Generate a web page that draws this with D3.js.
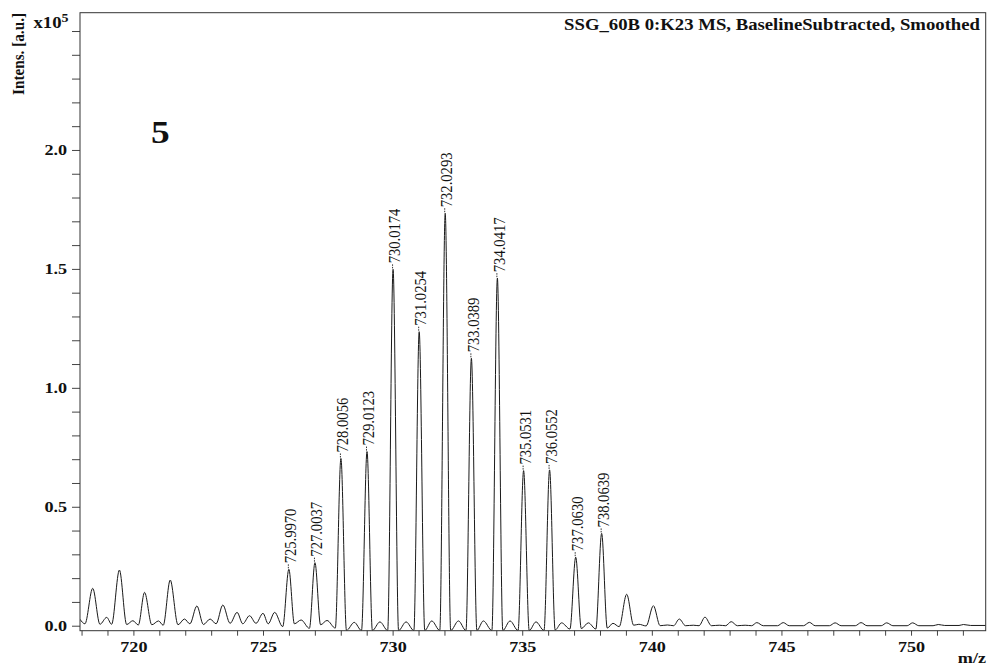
<!DOCTYPE html>
<html>
<head>
<meta charset="utf-8">
<script src="https://cdn.jsdelivr.net/npm/d3@7"></script>
<style>
  html, body { margin: 0; padding: 0; background: #fff; }
  svg { display: block; font-family: "Liberation Serif", "Times New Roman", serif; }
</style>
</head>
<body>
<svg id="chart" width="987" height="667"></svg>
<script>
// Labelled isotope peaks: m/z as printed, intensity in units of 1e5 a.u.
const peakLabels = ["725.9970", "727.0037", "728.0056", "729.0123", "730.0174", "731.0254",
                    "732.0293", "733.0389", "734.0417", "735.0531", "736.0552", "737.0630", "738.0639"];
const peakMz = peakLabels.map(Number);
const peakIntensity = [0.237, 0.265, 0.703, 0.732, 1.498, 1.236, 1.734, 1.124, 1.461, 0.652, 0.655, 0.288, 0.388];

// Rest of the smoothed profile: minor peaks, valleys and the ringing between isotopes
const traceMz = [
  717.94, 718.13, 718.43, 718.71, 718.97, 719.16, 719.46, 719.74, 719.98, 720.19,
  720.43, 720.71, 720.97, 721.15, 721.42, 721.72, 721.97, 722.18, 722.45, 722.70,
  722.96, 723.19, 723.45, 723.73, 724.00, 724.22, 724.48, 724.73, 725.00, 725.20,
  725.45, 725.76,
  726.21, 726.47, 726.79,
  727.22, 727.47, 727.79,
  728.22, 728.52, 728.80,
  729.22, 729.51, 729.81,
  730.23, 730.52, 730.82,
  731.24, 731.51, 731.82,
  732.24, 732.54, 732.83,
  733.25, 733.50, 733.83,
  734.25, 734.53, 734.84,
  735.27, 735.53, 735.84,
  736.27, 736.52, 736.84,
  737.28, 737.55, 737.84,
  738.28, 738.50, 738.74, 739.03, 739.30, 739.50, 739.78, 740.06, 740.32, 740.60,
  740.84, 741.06, 741.30, 741.60, 741.82, 742.05, 742.30, 742.60, 742.85, 743.06,
  743.30, 743.60, 743.85, 744.05, 744.30, 744.85, 745.07, 745.30, 745.85, 746.08,
  746.30, 746.85, 747.07, 747.30, 747.85, 748.07, 748.30, 748.85, 749.06, 749.30,
  749.85, 750.06, 750.30, 750.85, 751.05, 751.30, 751.85, 752.02, 752.30, 752.88
];
const traceIntensity = [
  0.027, 0.008, 0.157, 0.006, 0.035, 0.006, 0.234, 0.005, 0.021, 0.003,
  0.140, 0.004, 0.020, 0.002, 0.192, 0.004, 0.028, 0.008, 0.083, 0.005,
  0.028, 0.008, 0.087, 0.010, 0.056, 0.008, 0.042, 0.010, 0.052, 0.008,
  0.056, -0.004,
  0.008, 0.024, -0.011,
  0.004, 0.022, -0.010,
  -0.020, 0.014, -0.020,
  -0.020, 0.016, -0.020,
  -0.020, 0.016, -0.020,
  -0.020, 0.020, -0.020,
  -0.020, 0.020, -0.020,
  -0.020, 0.020, -0.020,
  -0.020, 0.020, -0.020,
  -0.020, 0.016, -0.020,
  -0.018, 0.012, -0.014,
  -0.012, 0.012, -0.014,
  -0.010, 0.010, -0.004, 0.132, 0.002, 0.006, -0.001, 0.084, 0.000, 0.003,
  0.000, 0.028, 0.000, 0.002, 0.000, 0.036, 0.000, 0.002, 0.000, 0.017,
  0.000, 0.002, 0.000, 0.013, 0.000, 0.000, 0.013, 0.000, 0.000, 0.014,
  0.000, 0.000, 0.012, 0.000, 0.000, 0.013, 0.000, 0.000, 0.012, 0.000,
  0.000, 0.012, 0.000, 0.000, 0.005, 0.001, 0.001, 0.005, 0.001, 0.001
];

// Axis ticks
const xTickValues = d3.range(718, 753);           // one tick per m/z unit
const xLabelEvery = 5;
const yTickValues = d3.range(0, 26).map(i => i / 10); // one tick per 0.1 x10^5
const yLabelValues = [0, 0.5, 1.0, 1.5, 2.0];

// Layout
const plot = { left: 80, top: 12.7, right: 985.7, bottom: 630.7 };
const STRETCH = 1.17; // wide horizontal glyph proportions
const ink = "#111";

const svg = d3.select("#chart");

const x = d3.scaleLinear().domain([717.94, 752.88]).range([plot.left, plot.right]);
const y = d3.scaleLinear().domain([-0.021, 2.577]).range([plot.bottom, plot.top]);

// Clip for the trace
svg.append("defs").append("clipPath").attr("id", "plotClip")
  .append("rect")
  .attr("x", plot.left).attr("y", plot.top)
  .attr("width", plot.right - plot.left).attr("height", plot.bottom - plot.top);

// Merge labelled peaks into the profile
const profile = traceMz.map((m, i) => ({ mz: m, v: traceIntensity[i] }))
  .concat(peakMz.map((m, i) => ({ mz: m, v: peakIntensity[i] })))
  .sort((a, b) => a.mz - b.mz);

const line = d3.line()
  .x(d => x(d.mz))
  .y(d => y(d.v))
  .curve(d3.curveMonotoneX);

svg.append("path")
  .datum(profile)
  .attr("clip-path", "url(#plotClip)")
  .attr("fill", "none")
  .attr("stroke", "#1a1a1a")
  .attr("stroke-width", 1)
  .attr("stroke-linejoin", "round")
  .attr("d", line);

// Axes
const xAxis = d3.axisBottom(x)
  .tickValues(xTickValues)
  .tickSize(5)
  .tickSizeOuter(0)
  .tickFormat(d => d % xLabelEvery === 0 ? d3.format("d")(d) : "");

const gx = svg.append("g")
  .attr("transform", `translate(0,${plot.bottom})`)
  .call(xAxis);
gx.select(".domain").remove();
gx.selectAll(".tick line").attr("stroke", "#444");
gx.selectAll(".tick text")
  .attr("fill", ink)
  .attr("font-size", "15.5px")
  .attr("font-weight", "bold")
  .attr("font-family", "Liberation Serif, Times New Roman, serif")
  .attr("y", 21).attr("dy", 0)
  .attr("transform", `scale(${STRETCH},1)`);

const yAxis = d3.axisLeft(y)
  .tickValues(yTickValues)
  .tickSize(8)
  .tickSizeOuter(0)
  .tickFormat(d => yLabelValues.some(v => Math.abs(v - d) < 1e-9) ? d3.format(".1f")(d) : "");

const gy = svg.append("g")
  .attr("transform", `translate(${plot.left},0)`)
  .call(yAxis);
gy.select(".domain").remove();
gy.selectAll(".tick line").attr("stroke", "#444");
gy.selectAll(".tick text")
  .attr("fill", ink)
  .attr("font-size", "15.5px")
  .attr("font-weight", "bold")
  .attr("font-family", "Liberation Serif, Times New Roman, serif")
  .attr("transform", `scale(${STRETCH},1)`);

// Frame
svg.append("rect")
  .attr("x", plot.left).attr("y", plot.top)
  .attr("width", plot.right - plot.left).attr("height", plot.bottom - plot.top)
  .attr("fill", "none")
  .attr("stroke", "#333")
  .attr("stroke-width", 1);

// Peak annotations
const ann = svg.append("g").selectAll("g")
  .data(peakLabels.map((t, i) => ({ t, mz: peakMz[i], v: peakIntensity[i] })))
  .join("g")
  .attr("transform", d => `translate(${x(d.mz)},${y(d.v)})`);

ann.append("line")
  .attr("x1", -0.5).attr("x2", -0.5)
  .attr("y1", -1).attr("y2", -5)
  .attr("stroke", "#333")
  .attr("stroke-width", 1)
  .attr("stroke-dasharray", "1.5,1");

ann.append("text")
  .attr("transform", `translate(0,-6) scale(${STRETCH},1) rotate(-90)`)
  .attr("x", 0).attr("y", 6.2)
  .attr("font-size", "14.6px")
  .attr("fill", ink)
  .text(d => d.t);

// Title
svg.append("text")
  .attr("transform", `translate(980,30) scale(${STRETCH},1)`)
  .attr("text-anchor", "end")
  .attr("font-size", "16px")
  .attr("font-weight", "bold")
  .attr("fill", ink)
  .text("SSG_60B 0:K23 MS, BaselineSubtracted, Smoothed");

// Panel number
svg.append("text")
  .attr("transform", `translate(151,143.3) scale(${STRETCH},1)`)
  .attr("font-size", "32px")
  .attr("font-weight", "bold")
  .attr("fill", ink)
  .text("5");

// Y axis title and exponent
svg.append("text")
  .attr("transform", `translate(23.5,95) scale(${STRETCH},1) rotate(-90)`)
  .attr("font-size", "15px")
  .attr("font-weight", "bold")
  .attr("fill", ink)
  .attr("textLength", 82)
  .attr("lengthAdjust", "spacingAndGlyphs")
  .text("Intens. [a.u.]");

const expo = svg.append("text")
  .attr("transform", `translate(33.5,28.3) scale(${STRETCH},1)`)
  .attr("font-size", "16px")
  .attr("font-weight", "bold")
  .attr("fill", ink);
expo.append("tspan").text("x10");
expo.append("tspan").attr("font-size", "12px").attr("dy", -6).text("5");

// X axis title
svg.append("text")
  .attr("transform", `translate(986,663) scale(${STRETCH},1)`)
  .attr("text-anchor", "end")
  .attr("font-size", "15.5px")
  .attr("font-weight", "bold")
  .attr("fill", ink)
  .text("m/z");
</script>
</body>
</html>
